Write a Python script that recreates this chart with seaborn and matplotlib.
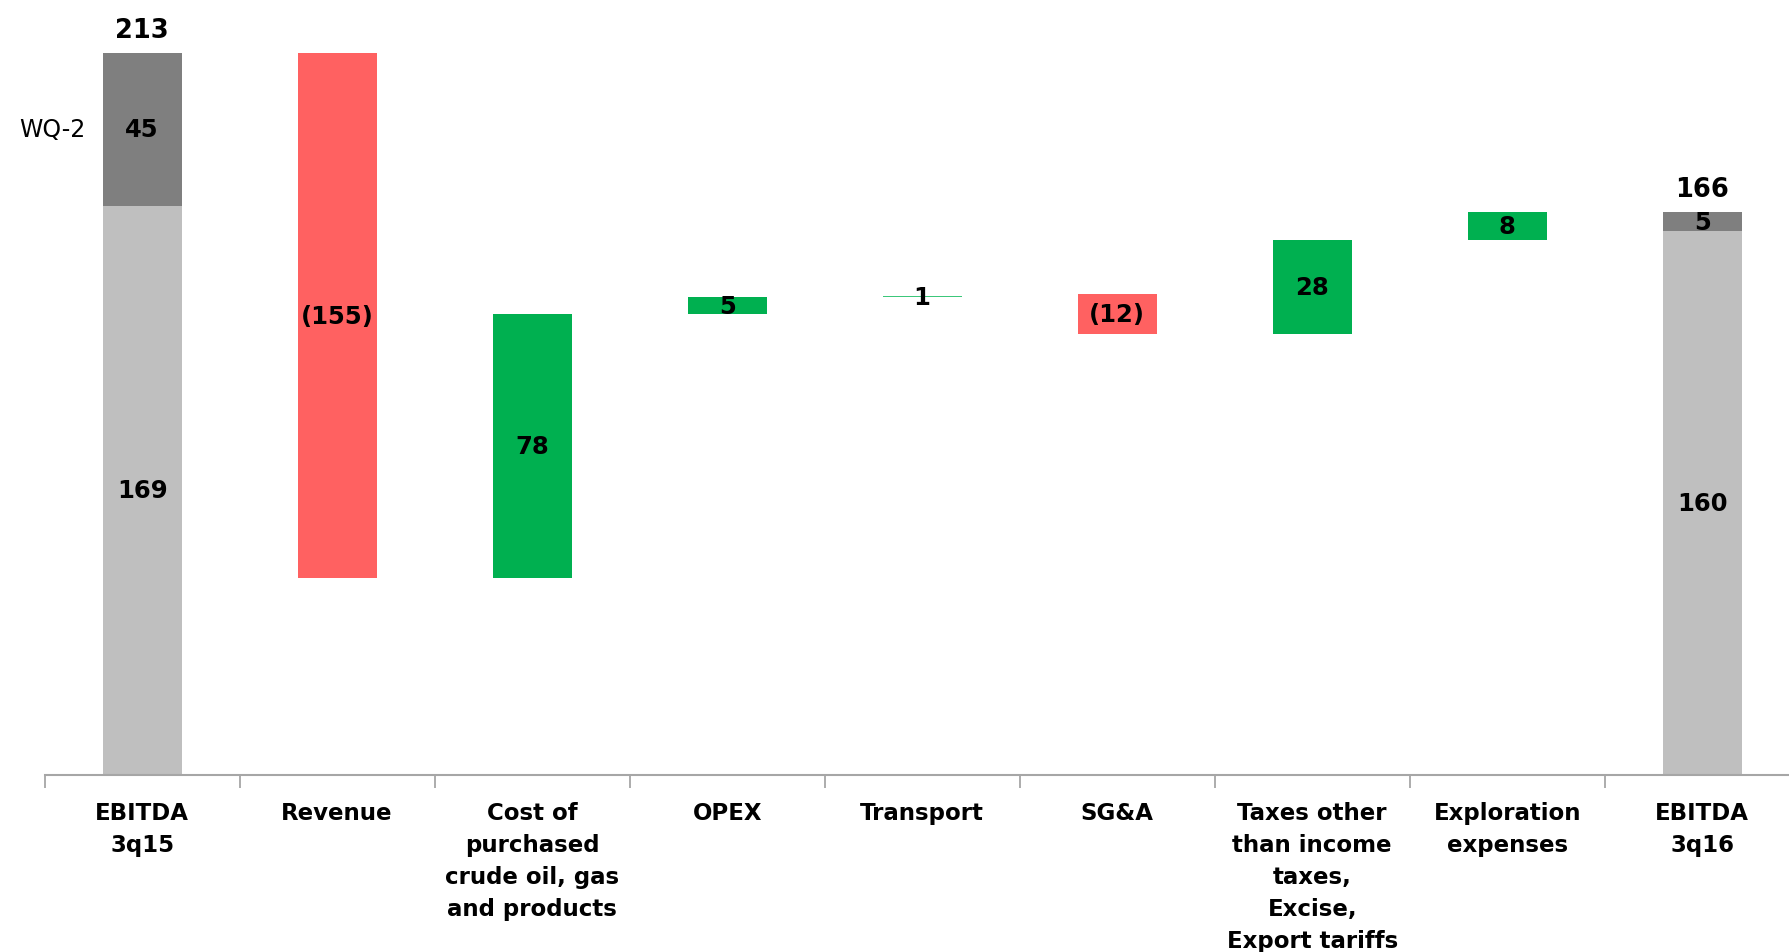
import numpy as np
import pandas as pd
import matplotlib
matplotlib.use("Agg")
import matplotlib.pyplot as plt
import seaborn as sns

# Données du graphique (EBITDA bridge)
categories = ["EBITDA\n3q15", "Revenue", "Cost of\npurchased\ncrude oil, gas\nand products",
              "OPEX", "Transport", "SG&A",
              "Taxes other\nthan income\ntaxes,\nExcise,\nExport tariffs",
              "Exploration\nexpenses", "EBITDA\n3q16"]
start_base = 168
start_wq2 = 45
start_labels = ["169", "45", "213"]
changes = [-155, 78, 5, 1, -12, 28, 8]
change_labels = ["(155)", "78", "5", "1", "(12)", "28", "8"]
end_base = 160.5
end_wq2 = 5.5
end_labels = ["160", "5", "166"]

GREY_LIGHT = "#BFBFBF"
GREY_DARK = "#7F7F7F"
RED = "#FF6161"
GREEN = "#00B050"

# Construire les segments (bas, hauteur, couleur, libellé)
segments = []
segments.append((categories[0], 0, start_base, GREY_LIGHT, start_labels[0]))
segments.append((categories[0], start_base, start_wq2, GREY_DARK, start_labels[1]))
level = start_base + start_wq2
for cat, ch, lab in zip(categories[1:-1], changes, change_labels):
    bottom = level + ch if ch < 0 else level
    color = RED if ch < 0 else GREEN
    height = abs(ch)
    if cat == "Transport":
        # affiché comme un trait fin dans l'original
        color = "#3CC77A"
        height = 0.35
    segments.append((cat, bottom, height, color, lab))
    level += ch
segments.append((categories[-1], 0, end_base, GREY_LIGHT, end_labels[0]))
segments.append((categories[-1], end_base, end_wq2, GREY_DARK, end_labels[1]))
seg = pd.DataFrame(segments, columns=["cat", "bottom", "height", "color", "label"])

sns.set_style("white")
fig = plt.figure(figsize=(17.9, 9.53), dpi=100)
ax = fig.add_axes([0.0249, 0.1857, 0.9751, 0.8143])

for _, r in seg.iterrows():
    sns.barplot(x=[r["cat"]], y=[r["height"]], order=categories, bottom=r["bottom"],
                color=r["color"], saturation=1, width=0.405, ax=ax, linewidth=0)
    ymid = r["bottom"] + r["height"] / 2
    ax.text(categories.index(r["cat"]), ymid, r["label"], ha="center", va="center",
            fontsize=17.5, fontweight="bold", color="black")

# Totaux au-dessus des colonnes EBITDA
ax.text(0, start_base + start_wq2 + 3, start_labels[2], ha="center", va="bottom",
        fontsize=18.5, fontweight="bold", color="black")
ax.text(len(categories) - 1, end_base + end_wq2 + 3, end_labels[2], ha="center", va="bottom",
        fontsize=18.5, fontweight="bold", color="black")
ax.text(-0.29, start_base + start_wq2 / 2, "WQ-2", ha="right", va="center", fontsize=17,
        color="black")

ax.set_xlim(-0.5, 8.45)
ax.set_ylim(0, 229)
ax.set_xlabel("")
ax.set_ylabel("")
ax.set_yticks([])
sns.despine(ax=ax, left=True, top=True, right=True)
ax.spines["bottom"].set_color("#A6A6A6")
ax.spines["bottom"].set_linewidth(1.5)

ax.set_xticks(range(len(categories)))
ax.set_xticklabels(categories, fontsize=16.5, fontweight="bold", linespacing=1.5, color="black")
ax.tick_params(axis="x", which="major", bottom=True, length=0, pad=18.5)
ax.set_xticks(np.arange(-0.5, len(categories) - 1, 1), minor=True)
ax.tick_params(axis="x", which="minor", bottom=True, length=9, width=1.3, color="#A6A6A6",
               direction="out")
for t in ax.get_xticklabels():
    t.set_verticalalignment("top")

fig.savefig("out.png", dpi=100)
